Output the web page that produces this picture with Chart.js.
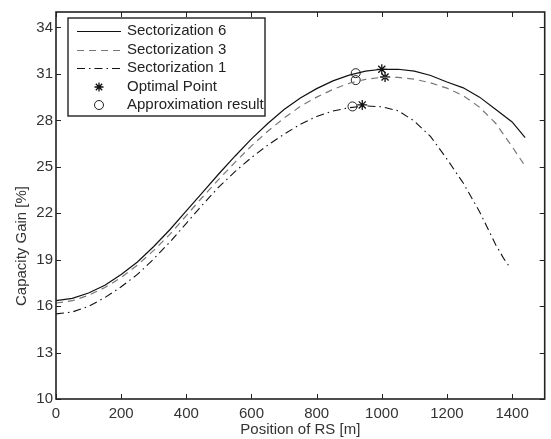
<!DOCTYPE html>
<html>
<head>
<meta charset="utf-8">
<script src="https://cdn.jsdelivr.net/npm/chart.js@4/dist/chart.umd.min.js"></script>
<style>
  html, body { margin: 0; padding: 0; background: #fff; }
  canvas { display: block; }
</style>
</head>
<body>
<canvas id="gainChart" width="551" height="439"></canvas>
<script>
// --- data ---
const posX = [0, 50, 100, 150, 200, 250, 300, 350, 400, 450, 500, 550, 600, 650, 700,
              750, 800, 850, 900, 950, 1000, 1050, 1100, 1150, 1200, 1250, 1300, 1350, 1400];

const sect6Y = [16.35, 16.5, 16.85, 17.35, 18.05, 18.85, 19.85, 20.95, 22.15, 23.35, 24.55, 25.7, 26.8, 27.8, 28.7,
                29.45, 30.05, 30.55, 30.92, 31.18, 31.3, 31.3, 31.18, 30.9, 30.48, 30.1, 29.5, 28.7, 27.9];
const sect6EndX = 1440, sect6EndY = 26.88;

const sect3Y = [16.2, 16.35, 16.7, 17.2, 17.85, 18.65, 19.6, 20.65, 21.85, 23.05, 24.2, 25.3, 26.35, 27.3, 28.15,
                28.9, 29.5, 30.0, 30.4, 30.65, 30.78, 30.78, 30.66, 30.42, 30.08, 29.6, 28.85, 27.8, 26.3];
const sect3EndX = 1435, sect3EndY = 25.2;

const sect1X = [0, 50, 100, 150, 200, 250, 300, 350, 400, 450, 500, 550, 600, 650, 700,
                750, 800, 850, 900, 950, 1000, 1050, 1100, 1150, 1200, 1250, 1300, 1350, 1375, 1390];
const sect1Y = [15.5, 15.62, 15.98, 16.55, 17.25, 18.05, 19.05, 20.15, 21.35, 22.55, 23.7, 24.7, 25.6, 26.4, 27.1,
                27.75, 28.25, 28.6, 28.82, 28.93, 28.88, 28.62, 27.95, 26.95, 25.5, 23.95, 22.1, 19.95, 19.05, 18.6];

const optimalX = [1000, 1010, 940];
const optimalY = [31.3, 30.8, 29.0];
const approxX = [920, 920, 910];
const approxY = [31.05, 30.6, 28.9];

const xTicks = [0, 200, 400, 600, 800, 1000, 1200, 1400];
const yTicks = [10, 13, 16, 19, 22, 25, 28, 31, 34];

const FONT = "'Liberation Sans', Arial, sans-serif";

function toPoints(xs, ys) {
    return xs.map((x, i) => ({ x: x, y: ys[i] }));
}

const s6 = toPoints(posX, sect6Y).concat([{ x: sect6EndX, y: sect6EndY }]);
const s3 = toPoints(posX, sect3Y).concat([{ x: sect3EndX, y: sect3EndY }]);
const s1 = toPoints(sect1X, sect1Y);

const datasets = [
    { label: 'Sectorization 6', data: s6, showLine: true, borderColor: '#111', borderWidth: 1.2,
      pointRadius: 0, borderDash: [] },
    { label: 'Sectorization 3', data: s3, showLine: true, borderColor: '#777', borderWidth: 1.2,
      pointRadius: 0, borderDash: [7, 5] },
    { label: 'Sectorization 1', data: s1, showLine: true, borderColor: '#111', borderWidth: 1.1,
      pointRadius: 0, borderDash: [8, 4, 1.5, 4] },
    { label: 'Optimal Point', data: toPoints(optimalX, optimalY), showLine: false,
      pointStyle: 'star', pointRadius: 5, borderColor: '#111', borderWidth: 1.3, backgroundColor: '#111' },
    { label: 'Approximation result', data: toPoints(approxX, approxY), showLine: false,
      pointStyle: 'circle', pointRadius: 4.5, borderColor: '#222', borderWidth: 1, backgroundColor: 'rgba(0,0,0,0)' }
];

// frame + inward ticks on all sides, legend box and y title
const framePlugin = {
    id: 'frame',
    afterDraw(chart) {
        const ctx = chart.ctx;
        const a = chart.chartArea;
        const xs = chart.scales.x, ys = chart.scales.y;
        ctx.save();
        ctx.strokeStyle = '#222';
        ctx.lineWidth = 1;
        ctx.beginPath();
        xTicks.forEach(v => {
            const px = Math.round(xs.getPixelForValue(v)) + 0.5;
            ctx.moveTo(px, a.bottom); ctx.lineTo(px, a.bottom - 5);
            ctx.moveTo(px, a.top); ctx.lineTo(px, a.top + 5);
        });
        yTicks.forEach(v => {
            const py = Math.round(ys.getPixelForValue(v)) + 0.5;
            ctx.moveTo(a.left, py); ctx.lineTo(a.left + 5, py);
            ctx.moveTo(a.right, py); ctx.lineTo(a.right - 5, py);
        });
        ctx.stroke();
        ctx.lineWidth = 1.6;
        ctx.strokeRect(a.left, a.top, a.right - a.left, a.bottom - a.top);

        // legend
        const lx = 68, ly = 18, lw = 197, lh = 98;
        ctx.fillStyle = '#fff';
        ctx.fillRect(lx, ly, lw, lh);
        ctx.lineWidth = 1.4;
        ctx.strokeStyle = '#222';
        ctx.strokeRect(lx, ly, lw, lh);
        const rowY = [31, 50, 68, 87, 105];
        ctx.font = '15px ' + FONT;
        ctx.textBaseline = 'middle';
        ctx.textAlign = 'left';
        datasets.forEach((ds, i) => {
            const y = rowY[i];
            ctx.strokeStyle = ds.borderColor;
            ctx.lineWidth = ds.borderWidth;
            if (ds.showLine) {
                ctx.setLineDash(ds.borderDash);
                ctx.beginPath();
                ctx.moveTo(77, y + 0.5);
                ctx.lineTo(121, y + 0.5);
                ctx.stroke();
                ctx.setLineDash([]);
            } else if (ds.pointStyle === 'star') {
                const r = 4.5, cx = 99;
                ctx.beginPath();
                for (let k = 0; k < 4; k++) {
                    const ang = k * Math.PI / 4;
                    ctx.moveTo(cx - r * Math.cos(ang), y - r * Math.sin(ang));
                    ctx.lineTo(cx + r * Math.cos(ang), y + r * Math.sin(ang));
                }
                ctx.stroke();
            } else {
                ctx.beginPath();
                ctx.arc(99, y, 4.5, 0, Math.PI * 2);
                ctx.stroke();
            }
            ctx.fillStyle = '#222';
            ctx.fillText(ds.label, 127, y);
        });

        // y axis title
        ctx.translate(22, 246);
        ctx.rotate(-Math.PI / 2);
        ctx.textAlign = 'center';
        ctx.fillStyle = '#333';
        ctx.fillText('Capacity Gain [%]', 0, 0);
        ctx.restore();
    }
};

const chart = new Chart(document.getElementById('gainChart'), {
    type: 'scatter',
    data: { datasets: datasets },
    plugins: [framePlugin],
    options: {
        responsive: false,
        animation: false,
        devicePixelRatio: 1,
        layout: { padding: { top: 11, right: 3, left: 0, bottom: 0 } },
        plugins: { legend: { display: false }, tooltip: { enabled: false } },
        scales: {
            x: {
                type: 'linear', min: 0, max: 1500,
                afterBuildTicks: s => { s.ticks = xTicks.map(v => ({ value: v })); },
                afterFit: s => { s.height = 40; },
                grid: { display: false, drawTicks: false },
                border: { display: false },
                ticks: { font: { family: FONT, size: 15 }, color: '#333', padding: 6, maxRotation: 0, autoSkip: false,
                         callback: v => String(v) },
                title: { display: true, text: 'Position of RS [m]', font: { family: FONT, size: 15 }, color: '#333', padding: 0 }
            },
            y: {
                type: 'linear', min: 10, max: 35,
                afterBuildTicks: s => { s.ticks = yTicks.map(v => ({ value: v })); },
                afterFit: s => { s.width = 56; },
                grid: { display: false, drawTicks: false },
                border: { display: false },
                ticks: { font: { family: FONT, size: 15 }, color: '#333', padding: 3, autoSkip: false,
                         callback: v => String(v) }
            }
        }
    }
});
</script>
</body>
</html>
